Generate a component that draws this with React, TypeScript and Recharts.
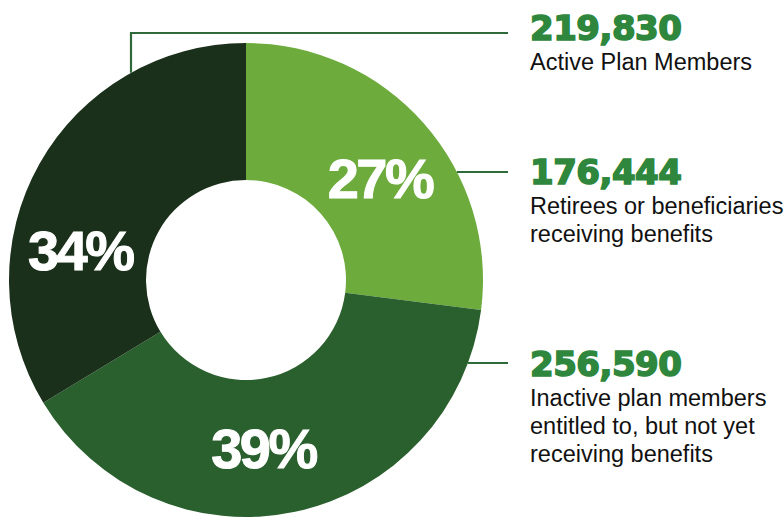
import { Cell, Pie, PieChart } from "recharts";

// plan membership, clockwise from 12 o'clock
const segments = ["Retirees", "Inactive", "Active"];
const memberCounts = [176444, 256590, 219830];
const descriptions = [
  ["Retirees or beneficiaries", "receiving benefits"],
  ["Inactive plan members", "entitled to, but not yet", "receiving benefits"],
  ["Active Plan Members"],
];
const sliceColors = ["#6cab3c", "#2a5f2e", "#1a301b"];

const data = segments.map((name, i) => ({ name, value: memberCounts[i] }));

const RAD = Math.PI / 180;
const TEXT_X = 530;
const LINE_END = 508;
const LINE_COLOR = "#2f6a3a";
const NUMBER_COLOR = "#2e873d";

// callout layout per slice
const callouts: Array<{ lineY: number; numberY: number; elbowX?: number }> = [
  { lineY: 172, numberY: 184 },
  { lineY: 363, numberY: 376 },
  { lineY: 33, numberY: 40, elbowX: 131 },
];
// hand placed percent labels drift a bit from the mid angle
const labelShift = [-4, -6, 19];

function renderLabel(props: any) {
  const { cx, cy, midAngle, innerRadius, outerRadius, percent, index } = props;
  const a = (midAngle + labelShift[index]) * RAD;
  const r = (innerRadius + outerRadius) / 2;
  const lx = cx + r * Math.cos(a);
  const ly = cy - r * Math.sin(a);
  const c = callouts[index];

  let path: string;
  if (c.elbowX != null) {
    const y0 = cy - Math.sqrt(outerRadius ** 2 - (c.elbowX - cx) ** 2);
    path = `M${c.elbowX},${y0}V${c.lineY}H${LINE_END}`;
  } else {
    const x0 = cx + Math.sqrt(outerRadius ** 2 - (c.lineY - cy) ** 2);
    path = `M${x0},${c.lineY}H${LINE_END}`;
  }

  return (
    <g key={`label-${index}`}>
      <text
        x={lx}
        y={ly + 20}
        textAnchor="middle"
        fill="#ffffff"
        stroke="#ffffff"
        strokeWidth={1}
        fontFamily="Liberation Sans, Arial, sans-serif"
        fontWeight={700}
        fontSize={56}
        letterSpacing={-2.5}
      >
        {`${Math.round(percent * 100)}%`}
      </text>
      <path d={path} fill="none" stroke={LINE_COLOR} strokeWidth={2.2} />
      <text
        x={TEXT_X}
        y={c.numberY}
        fill={NUMBER_COLOR}
        stroke={NUMBER_COLOR}
        strokeWidth={1.6}
        fontFamily="DejaVu Sans, sans-serif"
        fontWeight={700}
        fontSize={34}
        letterSpacing={-0.5}
      >
        {memberCounts[index].toLocaleString("en-US")}
      </text>
      {descriptions[index].map((line, j) => (
        <text
          key={j}
          x={TEXT_X}
          y={c.numberY + 30 + j * 28}
          fill="#111111"
          fontFamily="Liberation Sans, Arial, sans-serif"
          fontSize={23.5}
        >
          {line}
        </text>
      ))}
    </g>
  );
}

export default function App() {
  return (
    <div style={{ position: "absolute", left: 0, top: 0, width: 784, height: 519, background: "#ffffff" }}>
      <PieChart width={784} height={519} margin={{ top: 0, right: 0, bottom: 0, left: 0 }}>
        <Pie
          data={data}
          dataKey="value"
          nameKey="name"
          cx={246}
          cy={280}
          innerRadius={100}
          outerRadius={237}
          startAngle={90}
          endAngle={-270}
          stroke="none"
          label={renderLabel}
          labelLine={false}
          isAnimationActive={false}
        >
          {data.map((d, i) => (
            <Cell key={d.name} fill={sliceColors[i]} />
          ))}
        </Pie>
      </PieChart>
    </div>
  );
}
